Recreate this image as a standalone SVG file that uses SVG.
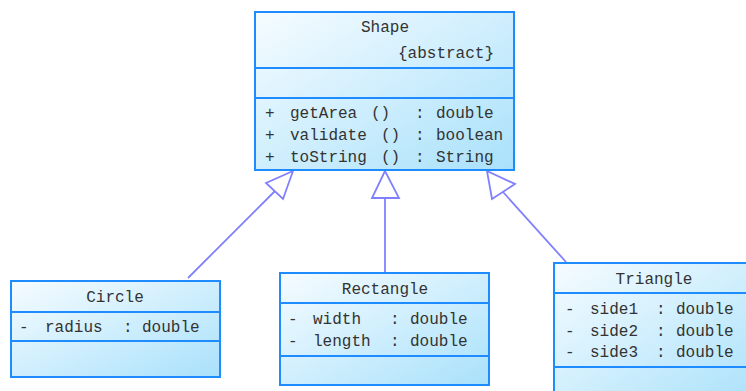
<svg xmlns="http://www.w3.org/2000/svg" width="746" height="391" viewBox="0 0 746 391">
<defs>
<linearGradient id="g" x1="0" y1="0" x2="1" y2="1">
<stop offset="0" stop-color="#f6fcff"/>
<stop offset="1" stop-color="#a9e1fb"/>
</linearGradient>
</defs>
<style>
.box{fill:url(#g);stroke:#1e8cff;stroke-width:2}
.div{stroke:#1e8cff;stroke-width:2;fill:none}
text{font-family:"Liberation Mono","DejaVu Sans Mono",monospace;font-size:16px;fill:#333}
.c{text-anchor:middle}
.conn{stroke:#8080ff;stroke-width:1.8;fill:none}
.head{stroke:#8080ff;stroke-width:1.8;fill:#fff}
</style>
<rect width="746" height="391" fill="#fff"/>
<g id="connectors">
<line class="conn" x1="188" y1="278" x2="275" y2="191"/>
<polygon class="head" points="293,171 266,183 283,199"/>
<line class="conn" x1="385" y1="198" x2="385" y2="272"/>
<polygon class="head" points="385,171 372,198 399,198"/>
<line class="conn" x1="566" y1="262" x2="503" y2="192"/>
<polygon class="head" points="487,171 492,199 515,184"/>
</g>
<g id="shape">
<rect class="box" x="255" y="12" width="259" height="158"/>
<line class="div" x1="255" y1="68" x2="514" y2="68"/>
<line class="div" x1="255" y1="98" x2="514" y2="98"/>
<text class="c" x="385" y="32">Shape</text>
<text x="398" y="58">{abstract}</text>
<text y="118"><tspan x="265">+</tspan><tspan x="290">getArea</tspan><tspan x="371">()</tspan><tspan x="415">:</tspan><tspan x="436">double</tspan></text>
<text y="140"><tspan x="265">+</tspan><tspan x="290">validate</tspan><tspan x="381">()</tspan><tspan x="415">:</tspan><tspan x="436">boolean</tspan></text>
<text y="162"><tspan x="265">+</tspan><tspan x="290">toString</tspan><tspan x="381">()</tspan><tspan x="415">:</tspan><tspan x="436">String</tspan></text>
</g>
<g id="circle">
<rect class="box" x="11" y="281" width="209" height="96"/>
<line class="div" x1="11" y1="312" x2="220" y2="312"/>
<line class="div" x1="11" y1="341" x2="220" y2="341"/>
<text class="c" x="115" y="302">Circle</text>
<text y="332"><tspan x="19">-</tspan><tspan x="45">radius</tspan><tspan x="123">:</tspan><tspan x="142">double</tspan></text>
</g>
<g id="rectangle">
<rect class="box" x="280" y="273" width="209" height="112"/>
<line class="div" x1="280" y1="303" x2="489" y2="303"/>
<line class="div" x1="280" y1="356" x2="489" y2="356"/>
<text class="c" x="385" y="294">Rectangle</text>
<text y="324"><tspan x="288">-</tspan><tspan x="313">width</tspan><tspan x="390">:</tspan><tspan x="410">double</tspan></text>
<text y="346"><tspan x="288">-</tspan><tspan x="313">length</tspan><tspan x="390">:</tspan><tspan x="410">double</tspan></text>
</g>
<g id="triangle">
<rect class="box" x="554" y="263" width="210" height="140"/>
<line class="div" x1="554" y1="293" x2="764" y2="293"/>
<line class="div" x1="554" y1="367" x2="764" y2="367"/>
<text class="c" x="654" y="284">Triangle</text>
<text y="314"><tspan x="565">-</tspan><tspan x="590">side1</tspan><tspan x="656">:</tspan><tspan x="676">double</tspan></text>
<text y="336"><tspan x="565">-</tspan><tspan x="590">side2</tspan><tspan x="656">:</tspan><tspan x="676">double</tspan></text>
<text y="357"><tspan x="565">-</tspan><tspan x="590">side3</tspan><tspan x="656">:</tspan><tspan x="676">double</tspan></text>
</g>
</svg>
